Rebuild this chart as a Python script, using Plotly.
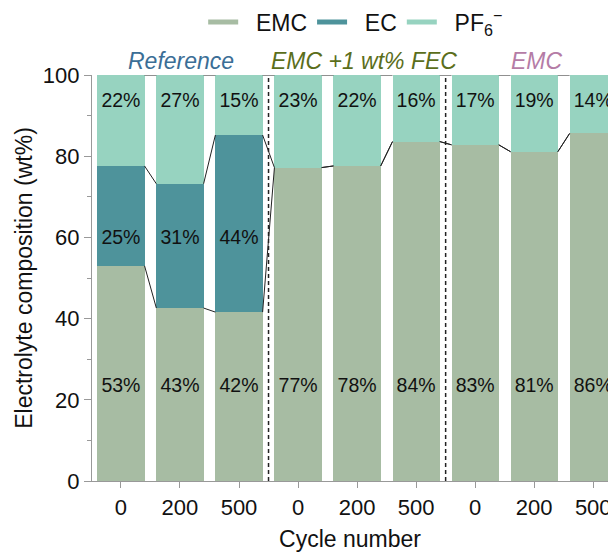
import plotly.graph_objects as go

# Electrolyte composition (wt%) after cycling, three electrolyte formulations
cycles = ["0", "200", "500", "0", "200", "500", "0", "200", "500"]
group_names = ["Reference", "EMC +1 wt% FEC", "EMC"]
group_colors = ["#3b6e96", "#5b6e1b", "#b57ca6"]
emc = [53.0, 42.6, 41.6, 77.2, 77.6, 83.6, 82.8, 81.1, 85.6]
ec = [24.6, 30.6, 43.6, 0, 0, 0, 0, 0, 0]
pf6 = [22.4, 26.8, 14.8, 22.8, 22.4, 16.4, 17.2, 18.9, 14.4]

C_EMC, C_EC, C_PF6 = "#a7bca3", "#4e939b", "#97d3c0"
FONT = "Arial, Liberation Sans, sans-serif"
BAR_W = 0.8
NB = "\u00a0\u00a0"  # spacing between legend swatch and label

pos = list(range(len(cycles)))

fig = go.Figure()

for name, vals, col in [("EMC", emc, C_EMC), ("EC", ec, C_EC), ("PF6", pf6, C_PF6)]:
    fig.add_trace(go.Bar(x=pos, y=vals, width=BAR_W, marker=dict(color=col, line=dict(width=0)),
                         showlegend=False, hoverinfo="skip"))

# connector lines between the stack boundaries of neighbouring bars
lvl1 = emc
lvl2 = [a + b for a, b in zip(emc, ec)]
lvl3 = [a + b + c for a, b, c in zip(emc, ec, pf6)]
cx, cy = [], []
for lvl in (lvl1, lvl2, lvl3):
    for i in range(len(pos) - 1):
        cx += [pos[i] + BAR_W / 2, pos[i + 1] - BAR_W / 2, None]
        cy += [lvl[i], lvl[i + 1], None]
fig.add_trace(go.Scatter(x=cx, y=cy, mode="lines", line=dict(color="#222222", width=1),
                         showlegend=False, hoverinfo="skip", cliponaxis=False))

# percentage labels at fixed heights
label_rows = [(emc, 23.0), (ec, 59.5), (pf6, 93.3)]
for vals, yy in label_rows:
    xs = [p for p, v in zip(pos, vals) if v > 0]
    ts = [f"{v:.0f}%" for v in vals if v > 0]
    fig.add_trace(go.Scatter(x=xs, y=[yy] * len(xs), mode="text", text=ts,
                             textfont=dict(family=FONT, size=19.5, color="#111111"),
                             showlegend=False, hoverinfo="skip"))

# legend entries drawn as thick line swatches
for name, col in [("EMC", C_EMC), ("EC", C_EC), ("PF<sub>6</sub><sup>−</sup>", C_PF6)]:
    fig.add_trace(go.Scatter(x=[None], y=[None], mode="lines", name=NB + name,
                             line=dict(color=col, width=5)))

# dashed separators between formulations
for xsep in (2.5, 5.5):
    fig.add_shape(type="line", x0=xsep, x1=xsep, y0=0, y1=100, xref="x", yref="y",
                  line=dict(color="#222222", width=1.5, dash="4px,3px"))

for gx, gname, gcol in zip([1.02, 4.12, 7.05], group_names, group_colors):
    fig.add_annotation(x=gx, y=1.034, xref="x", yref="paper", text=gname, showarrow=False,
                       font=dict(family=FONT, size=23, color=gcol, style="italic"),
                       xanchor="center", yanchor="middle")

fig.update_layout(
    width=608, height=552,
    margin=dict(l=92, r=0, t=75, b=71),
    paper_bgcolor="white", plot_bgcolor="white",
    barmode="stack", bargap=0,
    font=dict(family=FONT, size=22, color="#111111"),
    legend=dict(orientation="h", xref="container", yref="container", x=0.585, y=0.96,
                xanchor="center", yanchor="middle", font=dict(family=FONT, size=23),
                traceorder="normal", itemwidth=30, bgcolor="rgba(0,0,0,0)"),
    xaxis=dict(range=[-0.49, 8.25], tickvals=pos, ticktext=cycles, ticks="outside", ticklen=6,
               tickcolor="#999999", showline=True, linecolor="#999999", linewidth=1.2,
               showgrid=False, zeroline=False, tickfont=dict(size=22), automargin=False,
               ticklabeloverflow="allow",
               title=dict(text="Cycle number", font=dict(size=23), standoff=28)),
    yaxis=dict(range=[0, 100], tickvals=[0, 20, 40, 60, 80, 100], ticks="outside", ticklen=7,
               tickcolor="#999999", showline=True, linecolor="#999999", linewidth=1.2,
               showgrid=False, zeroline=False, tickfont=dict(size=22), automargin=False,
               minor=dict(dtick=10, ticks="outside", ticklen=4, tickcolor="#999999", showgrid=False),
               title=dict(text="Electrolyte composition (wt%)", font=dict(size=23), standoff=3)),
)

fig.write_html("out.html")
